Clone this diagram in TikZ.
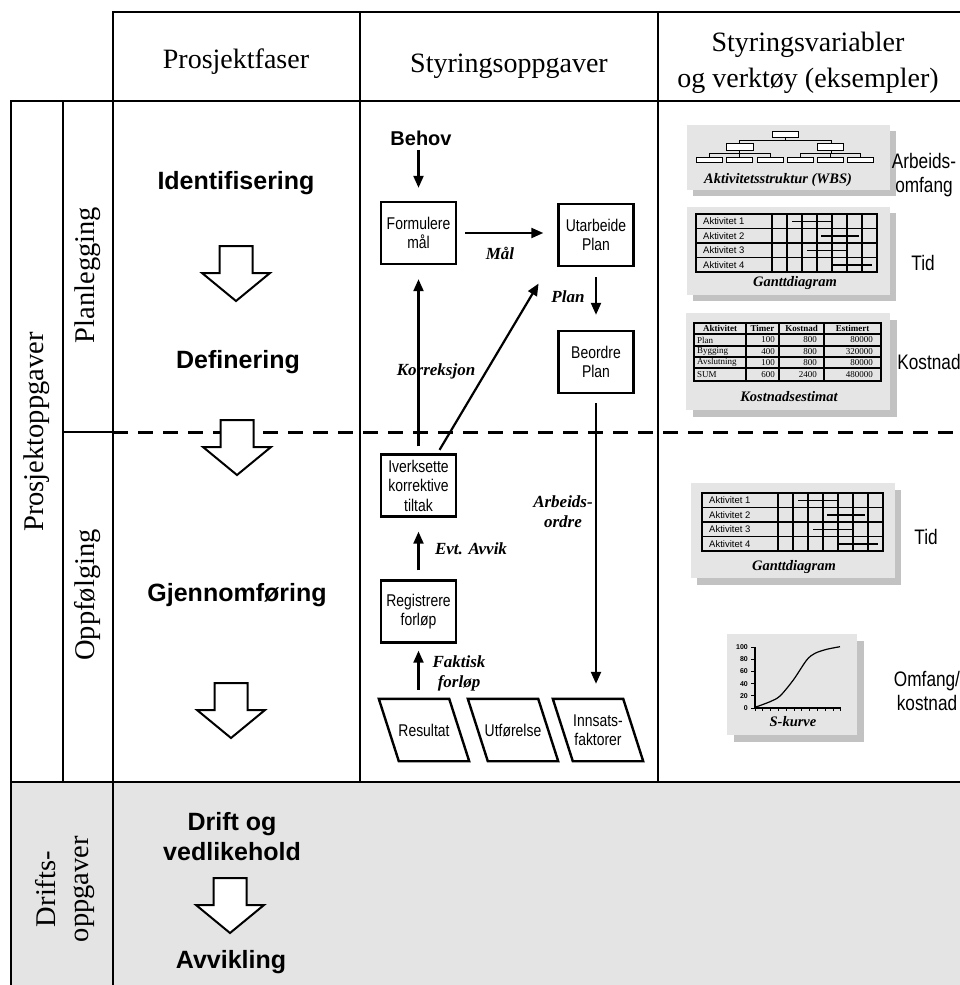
\documentclass[tikz,border=0pt]{standalone}
\usepackage{fontspec}
\setmainfont{Liberation Serif}
\newfontfamily\arialfont{Liberation Sans}
\newfontfamily\narrowfont[FakeStretch=0.82]{Liberation Sans}
\usetikzlibrary{arrows.meta}

\definecolor{cellgray}{gray}{0.895}
\definecolor{panelgray}{gray}{0.9}
\definecolor{shadowgray}{gray}{0.76}

\newcommand\fsz[2]{\fontsize{#1}{#2}\selectfont}

\tikzset{
  gridline/.style={line width=2.2pt},
  head/.style={font=\fsz{28}{36}, align=center},
  side/.style={font=\fsz{28.5}{33}, rotate=90, align=center},
  phase/.style={font=\arialfont\bfseries\fsz{25}{30}, align=center},
  task/.style={draw, line width=2.4pt, minimum width=75pt, minimum height=62pt,
    inner sep=0pt, align=center, font=\narrowfont\fsz{17}{19.5}},
  io/.style={minimum width=70pt, minimum height=62pt, inner sep=0pt,
    align=center, font=\narrowfont\fsz{17}{18.5}},
  flow/.style={line width=2.2pt, -{Triangle[length=12pt,width=10pt]}},
  flowlabel/.style={font=\bfseries\itshape\fsz{17}{20}, align=center},
  varlabel/.style={font=\narrowfont\fsz{21}{24}, align=center},
  blockarrow/.style={draw, fill=white, line width=2pt, line join=miter},
  panel/.style={fill=panelgray},
  shadowbox/.style={fill=shadowgray},
  caption/.style={font=\bfseries\itshape\fsz{14.5}{16}},
  smalltext/.style={font=\arialfont\fsz{9.5}{10}, inner sep=0pt},
  tabtext/.style={font=\fsz{9}{10}, inner sep=0pt},
  tabhead/.style={font=\bfseries\fsz{9}{10}, inner sep=0pt},
  wbsbox/.style={draw, fill=white, line width=1pt},
  blockdown/.pic={
    \draw[blockarrow] (-16.5,0) -- (16.5,0) -- (16.5,27) -- (34,27) -- (0,55)
      -- (-34,27) -- (-16.5,27) -- cycle;
  },
  gantt/.pic={
    \foreach \r in {1,...,4}
      \node[smalltext, anchor=west] at (7,{(\r-0.5)*14.5}) {Aktivitet \r};
    \draw[line width=1.2pt] (0,0) rectangle (181,58);
    \foreach \y in {14.5,29,43.5} \draw[line width=1.2pt] (0,\y) -- (181,\y);
    \foreach \x in {76,91,...,166} \draw[line width=1.5pt] (\x,0) -- (\x,58);
    \draw[line width=1.5pt] (96,7.25) -- (135,7.25);
    \draw[line width=1.5pt] (125,21.75) -- (163,21.75);
    \draw[line width=1.5pt] (111,36.25) -- (150,36.25);
    \draw[line width=1.5pt] (137,50.75) -- (176,50.75);
  }
}

\begin{document}
\begin{tikzpicture}[x=1pt,y=-1pt]
\useasboundingbox (0,0) rectangle (960,985);

% operations band
\fill[cellgray] (11,782) rectangle (960,985);

% table rules
\draw[gridline] (960,12) -- (113,12) -- (113,985);
\draw[gridline] (360,12) -- (360,782);
\draw[gridline] (658,12) -- (658,782);
\draw[gridline] (11,985) -- (11,101) -- (960,101);
\draw[gridline] (63,101) -- (63,782);
\draw[gridline] (11,782) -- (960,782);
\draw[gridline] (63,432) -- (113,432);
\draw[line width=3pt, dash pattern=on 15pt off 10pt] (113,432) -- (960,432);

% column heads
\node[head] (hphase) at (236,62) {Prosjektfaser};
\node[head] (htask) at (509,66) {Styringsoppgaver};
\node[head] (hvar) at (808,63) {Styringsvariabler\\og verktøy (eksempler)};

% row heads
\node[side] (sproj) at (37,432) {Prosjektoppgaver};
\node[side] (splan) at (88,275) {Planlegging};
\node[side] (sfollow) at (88,595) {Oppfølging};
\node[side] (sops) at (65,889) {Drifts-\\oppgaver};

% project phases
\node[phase] (pid) at (236,183) {Identifisering};
\node[phase] (pdef) at (238,362) {Definering};
\node[phase] (pgj) at (237,595) {Gjennomføring};
\node[phase] (pdrift) at (232,837) {Drift og\\vedlikehold};
\node[phase] (pavv) at (231,962) {Avvikling};
\pic at (236,246) {blockdown};
\pic at (237,420) {blockdown};
\pic at (231,683) {blockdown};
\pic at (230,878) {blockdown};

% control tasks
\node[font=\arialfont\bfseries\fsz{20}{22}] (behov) at (421,138) {Behov};
\node[task] (form) at (418.5,233) {Formulere\\mål};
\node[task] (utarb) at (596,235) {Utarbeide\\Plan};
\node[task] (beordre) at (596,362) {Beordre\\Plan};
\node[task] (iverks) at (418.5,485.5) {Iverksette\\korrektive\\tiltak};
\node[task] (regist) at (418.5,611.5) {Registrere\\forløp};
\node[io] (res) at (424,730) {Resultat};
\node[io] (utf) at (513,730) {Utførelse};
\node[io] (inns) at (598,730) {Innsats-\\faktorer};
\foreach \n in {res,utf,inns}
  \draw[line width=2.4pt, line join=miter]
    ([xshift=-10pt]\n.north west) -- ([xshift=-10pt]\n.north east)
    -- ([xshift=10pt]\n.south east) -- ([xshift=10pt]\n.south west) -- cycle;

\node[flowlabel] (lmaal) at (500,253) {Mål};
\node[flowlabel] (lplan) at (568,297) {Plan};
\node[flowlabel] (lkorr) at (436,371) {Korreksjon};
\node[flowlabel] (larb) at (563,512) {Arbeids-\\ordre};
\node[flowlabel] (lavvik) at (471,549) {Evt. Avvik};
\node[flowlabel] (lfakt) at (459,673) {Faktisk\\forløp};

\draw[flow, shorten <=1pt, shorten >=13pt] (form.north |- behov.south) -- (form.north);
\draw[flow, shorten <=8pt, shorten >=14pt] (form.east) -- (form.east -| utarb.west);
\draw[flow, shorten <=10pt, shorten >=15pt] (utarb.south) -- (beordre.north);
\draw[flow, shorten <=9pt, shorten >=15pt] (beordre.south) -- (beordre.south |- inns.north);
\draw[flow, shorten <=7pt, shorten >=14pt] (iverks.north) -- (form.south);
\draw[flow, shorten <=4pt, shorten >=19pt] ([xshift=19pt]iverks.north) -- ([xshift=-9pt]utarb.south west);
\draw[flow, shorten <=9pt, shorten >=14pt] (regist.north) -- (iverks.south);
\draw[flow, shorten <=9pt, shorten >=7pt] (regist.south |- res.north) -- (regist.south);

% control variables and tools
% work breakdown structure
\fill[shadowbox] (693,131) rectangle (896,196);
\fill[panel] (687,125) rectangle (890,190);
\draw[line width=1pt] (785,137) -- (785,140) (739,140) -- (831,140)
  (739,140) -- (739,143) (831,140) -- (831,143)
  (739,150) -- (739,153) (709,153) -- (770,153)
  (709,153) -- (709,157) (739,153) -- (739,157) (770,153) -- (770,157)
  (831,150) -- (831,153) (800,153) -- (860,153)
  (800,153) -- (800,157) (830,153) -- (830,157) (860,153) -- (860,157);
\draw[wbsbox] (772,131) rectangle (798,137);
\draw[wbsbox] (726,143) rectangle (753,150);
\draw[wbsbox] (817,143) rectangle (843,150);
\foreach \a in {696,726,757,787,817,847}
  \draw[wbsbox] (\a,157) rectangle ({\a+26},162);
\node[caption] (cwbs) at (778,180) {Aktivitetsstruktur (WBS)};

% Gantt chart, planning
\fill[shadowbox] (693,213) rectangle (896,301);
\fill[panel] (687,207) rectangle (890,295);
\pic at (696,214) {gantt};
\node[caption] (cg1) at (795,283) {Ganttdiagram};

% cost estimate
\fill[shadowbox] (693,320) rectangle (897,417);
\fill[panel] (686,313) rectangle (890,410);
\draw[line width=1.3pt] (694,323) rectangle (881,381);
\foreach \x in {746,779,824} \draw[line width=1.3pt] (\x,323) -- (\x,381);
\foreach \y in {334,346,357,368} \draw[line width=1.1pt] (694,\y) -- (881,\y);
\draw[line width=2pt] (694,381) -- (881,381);
\node[tabhead] at (720,328.5) {Aktivitet};
\node[tabhead] at (762.5,328.5) {Timer};
\node[tabhead] at (801.5,328.5) {Kostnad};
\node[tabhead] at (852.5,328.5) {Estimert};
\foreach \yy/\na/\ti/\ko/\es in {340/Plan/100/800/80000, 351.5/Bygging/400/800/320000,
    362.5/Avslutning/100/800/80000, 374.5/SUM/600/2400/480000} {
  \node[tabtext, anchor=west] at (697,\yy) {\na};
  \node[tabtext, anchor=east] at (775,\yy) {\ti};
  \node[tabtext, anchor=east] at (817,\yy) {\ko};
  \node[tabtext, anchor=east] at (873,\yy) {\es};
}
\node[caption] (ccost) at (789,397) {Kostnadsestimat};

% Gantt chart, follow-up
\fill[shadowbox] (697,490) rectangle (901,585);
\fill[panel] (691,483) rectangle (895,578);
\pic at (702,493) {gantt};
\node[caption] (cg2) at (794,567) {Ganttdiagram};

% S-curve
\fill[shadowbox] (734,641) rectangle (864,742);
\fill[panel] (727,634) rectangle (857,735);
\draw[line width=1.2pt] (755,647) -- (755,708) -- (841,708);
\foreach \v in {0,20,...,100} {
  \draw[line width=1pt] (751,{708-0.61*\v}) -- (755,{708-0.61*\v});
  \node[font=\arialfont\bfseries\fsz{7}{8}, inner sep=0pt, anchor=east] at (748,{708-0.61*\v}) {\v};
}
\foreach \i in {0,...,11} \draw[line width=0.9pt] ({755+7.8*\i},708) -- ({755+7.8*\i},710.5);
\draw[line width=1.2pt] plot[smooth, tension=0.5] coordinates {(755,707.3) (770,701.7) (780,696)
  (793.3,680) (806.7,660) (815,653.3) (826.7,649.3) (840,646.7)};
\node[caption] (cs) at (793,722) {S-kurve};

\node[varlabel] (vwbs) at (924,175) {Arbeids-\\omfang};
\node[varlabel] (vtid1) at (923,263) {Tid};
\node[varlabel] (vkost) at (929,362) {Kostnad};
\node[varlabel] (vtid2) at (926,537) {Tid};
\node[varlabel] (vomf) at (927,691) {Omfang/\\kostnad};
\end{tikzpicture}
\end{document}
